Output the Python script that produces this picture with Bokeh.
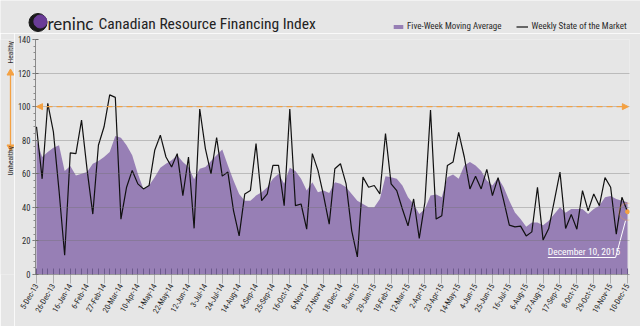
import math
from bokeh.plotting import figure
from bokeh.layouts import column, row
from bokeh.models import (Range1d, FixedTicker, Arrow, NormalHead,
                          PolyAnnotation, Legend, LegendItem)
from bokeh.embed import file_html
from bokeh.resources import INLINE
from bokeh.core.properties import value

# ---------------- data ----------------
tick_labels = ["5-Dec-13", "26-Dec-13", "16-Jan-14", "6-Feb-14", "27-Feb-14", "20-Mar-14",
               "10-Apr-14", "1-May-14", "22-May-14", "12-Jun-14", "3-Jul-14", "24-Jul-14",
               "14-Aug-14", "4-Sep-14", "25-Sep-14", "16-Oct-14", "6-Nov-14", "27-Nov-14",
               "18-Dec-14", "8-Jan-15", "29-Jan-15", "19-Feb-15", "12-Mar-15", "2-Apr-15",
               "23-Apr-15", "14-May-15", "4-Jun-15", "25-Jun-15", "16-Jul-15", "6-Aug-15",
               "27-Aug-15", "17-Sep-15", "8-Oct-15", "29-Oct-15", "19-Nov-15", "10-Dec-15"]

weekly = [88, 57, 102, 85, 50, 11.5, 72.5, 72, 92, 62,
          36, 77, 88, 107, 105.5, 33, 52, 62, 54, 51,
          53, 74, 83, 70, 64, 72, 47, 70, 27.5, 98.6,
          75, 60, 81.5, 58.6, 61, 38, 23, 48, 50, 78,
          44, 48, 65, 65, 41, 98.6, 41, 42, 27, 72,
          62, 47, 30, 63, 66, 54, 26, 10.5, 58, 52,
          53, 48, 84, 54, 50, 39, 29, 45, 21.5, 43,
          98, 33, 35, 65, 67, 84.7, 70, 51, 58.6, 51,
          62.6, 47, 57.7, 44, 29.4, 28.4, 28.8, 23, 25.4, 52,
          20.5, 27.4, 44, 61, 27.4, 35.8, 27, 50, 38, 48,
          41, 57.7, 52, 24, 46, 37.4]

moving_avg = [80, 70, 73, 75.5, 77, 61.6, 64.6, 59, 60, 61,
              66, 67.6, 70, 73, 82.5, 81.5, 77, 71, 60, 51,
              53, 58, 63.6, 66, 68, 71, 67, 64, 56.7, 63,
              64, 67.6, 71, 74.5, 65, 56, 48, 44, 44, 47,
              49, 52, 57, 60, 54, 63.6, 61.6, 57, 50, 55,
              49, 50, 48.5, 55, 54, 52, 48, 44, 42, 40,
              40, 45, 58.6, 58, 57, 53, 46, 42, 36, 39,
              47, 47.7, 46, 58, 59.6, 57, 65, 67, 65, 61.6,
              56, 53, 57.7, 52, 44, 37, 33, 28.4, 31, 31,
              29.4, 32, 36, 40, 36.8, 39, 39, 39, 36, 39,
              41, 46, 46.7, 45, 44, 43]

threshold = 100
y_ticks = [0, 20, 40, 60, 80, 100, 120, 140]
latest_label = "December 10, 2015"

# ---------------- layout constants ----------------
W, H = 640, 326
HEAD_H = 33                    # header strip height
LEFT_W = 14                    # strip holding Healthy / Unhealthy
MAIN_W, MAIN_H = W - LEFT_W, H - HEAD_H
MFL, MFR, MFT, MFB = 19, 615, 6, 241      # frame edges inside main figure (px)
XS, XE = -0.18, 105.35
YS, YE = 0, 140

FONT = "Roboto Condensed"
PURPLE = "#977fb5"
ORANGE = "#f4a142"
TXT = "#2a2a2a"
BG = "#e6e6e6"


def dx(px):
    return XS + (px - MFL) / (MFR - MFL) * (XE - XS)


def dy(py):
    return YS + (MFB - py) / (MFB - MFT) * (YE - YS)


def sx(d):
    return MFL + (d - XS) / (XE - XS) * (MFR - MFL)


def sy(d):
    return MFB - (d - YS) / (YE - YS) * (MFB - MFT)


x = list(range(len(weekly)))

# ---------------- header ----------------
head = figure(width=W, height=HEAD_H, output_backend="svg", toolbar_location=None,
              x_range=Range1d(0, W), y_range=Range1d(HEAD_H, 0), min_border=0,
              x_axis_type=None, y_axis_type=None)
head.background_fill_color = BG
head.border_fill_color = BG
head.outline_line_color = None
head.scatter([37.5], [22], size=18, color="#1a1a1a")
head.scatter([39.8], [21], size=13, color="#6a3c97")
head.text([47], [23], text=["reninc"], text_font=value("Lato"), text_font_size="17px",
          text_baseline="middle", text_color="#222222")
head.text([98], [23], text=["Canadian Resource Financing Index"], text_font=value(FONT),
          text_font_size="15.5px", text_baseline="middle", text_color="#222222")
# legend swatches (drawn off-screen, only their legend glyphs appear)
d_area = head.varea(x=[-60, -50], y1=[0, 0], y2=[1, 1], fill_color=PURPLE)
d_line = head.line([-60, -50], [0, 0], line_color="#111111", line_width=1.2)
legend = Legend(items=[LegendItem(label="Five-Week Moving Average", renderers=[d_area]),
                       LegendItem(label="Weekly State of the Market", renderers=[d_line])],
                orientation="horizontal", location=(392, 1),
                background_fill_alpha=0, border_line_alpha=0, padding=0, margin=0,
                spacing=15, glyph_width=12, glyph_height=5, label_standoff=3,
                label_height=12, label_text_font=FONT, label_text_font_size="9px",
                label_text_color=TXT, label_text_baseline="middle")
head.add_layout(legend, "center")

# ---------------- left strip (frame aligned with the main frame; y in page px) ----------------
PAGE_FT, PAGE_FB = HEAD_H + MFT, HEAD_H + MFB
side = figure(width=LEFT_W, height=MAIN_H, output_backend="svg", toolbar_location=None,
              x_range=Range1d(0, LEFT_W), y_range=Range1d(PAGE_FB, PAGE_FT),
              min_border_left=0, min_border_right=0, min_border_top=MFT,
              min_border_bottom=MAIN_H - MFB, x_axis_type=None, y_axis_type=None)
side.background_fill_color = BG
side.border_fill_color = BG
side.outline_line_color = None
side.segment([10], [73], [10], [146], line_color=ORANGE, line_width=1.3)
side.scatter([10], [72.5], marker="triangle", size=7, color=ORANGE)
side.scatter([10], [146.5], marker="inverted_triangle", size=7, color=ORANGE)
side.text([10, 10], [63, 175], text=["Healthy", "Unhealthy"], angle=math.pi / 2,
          text_align="left", text_baseline="middle", text_font=value(FONT),
          text_font_size="7.5px", text_color=TXT)

# ---------------- main chart ----------------
p = figure(width=MAIN_W, height=MAIN_H, output_backend="svg", toolbar_location=None,
           x_range=Range1d(XS, XE), y_range=Range1d(YS, YE),
           min_border_left=MFL, min_border_right=MAIN_W - MFR, min_border_top=MFT,
           min_border_bottom=MAIN_H - MFB)
p.background_fill_color = BG
p.border_fill_color = BG
p.outline_line_color = None

r_area = p.varea(x=x, y1=0, y2=moving_avg, fill_color=PURPLE)
r_line = p.line(x, weekly, line_color="#111111", line_width=1.2)

p.xgrid.visible = False
p.ygrid.ticker = FixedTicker(ticks=y_ticks[1:])
p.ygrid.grid_line_color = "#6e6e6e"
p.ygrid.grid_line_alpha = 0.36
p.ygrid.level = "guide"

p.yaxis.ticker = FixedTicker(ticks=y_ticks, minor_ticks=list(range(0, 141, 4)))
p.yaxis.axis_line_color = "#8a8a8a"
p.yaxis.major_tick_line_color = "#6a6a6a"
p.yaxis.minor_tick_line_color = "#8a8a8a"
p.yaxis.major_tick_in = 3
p.yaxis.major_tick_out = 3
p.yaxis.minor_tick_in = 0
p.yaxis.minor_tick_out = 2
p.yaxis.major_label_text_font = FONT
p.yaxis.major_label_text_font_size = "8.5px"
p.yaxis.major_label_text_color = TXT
p.yaxis.major_label_standoff = 2

major_idx = list(range(0, len(weekly), 3))
p.xaxis.ticker = FixedTicker(ticks=major_idx, minor_ticks=x)
p.xaxis.major_label_overrides = {i: lab for i, lab in zip(major_idx, tick_labels)}
p.xaxis.major_label_orientation = math.pi / 3
p.xaxis.axis_line_color = "#9a9a9a"
p.xaxis.major_tick_line_color = "#b0b0b0"
p.xaxis.major_tick_in = 0
p.xaxis.major_tick_out = 9
p.xaxis.minor_tick_line_color = "#6c5a8c"
p.xaxis.minor_tick_in = 6
p.xaxis.minor_tick_out = 0
p.xaxis.major_label_text_font = FONT
p.xaxis.major_label_text_font_size = "8px"
p.xaxis.major_label_text_color = TXT
p.xaxis.major_label_standoff = 1

p.add_layout(Arrow(x_start=x[0], y_start=threshold, x_end=x[-1] + 0.15, y_end=threshold,
                   line_color=ORANGE, line_width=1.3, line_dash="6 4",
                   start=NormalHead(size=6, fill_color=ORANGE, line_color=ORANGE),
                   end=NormalHead(size=6, fill_color=ORANGE, line_color=ORANGE)))

# latest-value callout
xl, yl = x[-1], weekly[-1]
cx_, cy_ = sx(xl), sy(yl)
ring_x = [dx(cx_ + 8.5 * math.cos(2 * math.pi * k / 48)) for k in range(48)]
ring_y = [dy(cy_ + 8.5 * math.sin(2 * math.pi * k / 48)) for k in range(48)]
p.add_layout(PolyAnnotation(xs=ring_x, ys=ring_y, fill_color=None, line_color=ORANGE,
                            line_width=1.3))
p.scatter([xl], [yl], size=4, color=ORANGE)
p.line([dx(cx_ - 2), dx(cx_ - 12), dx(cx_ - 80)], [dy(cy_ + 9), dy(224), dy(224)],
       line_color="white", line_width=1)
p.text([dx(cx_ - 80)], [dy(223)], text=[latest_label], text_font=value(FONT),
       text_font_size="9.5px", text_color="white", text_baseline="bottom")

layout = column(head, row(side, p, spacing=0), spacing=0)
open("out.html", "w").write(file_html(layout, INLINE))
